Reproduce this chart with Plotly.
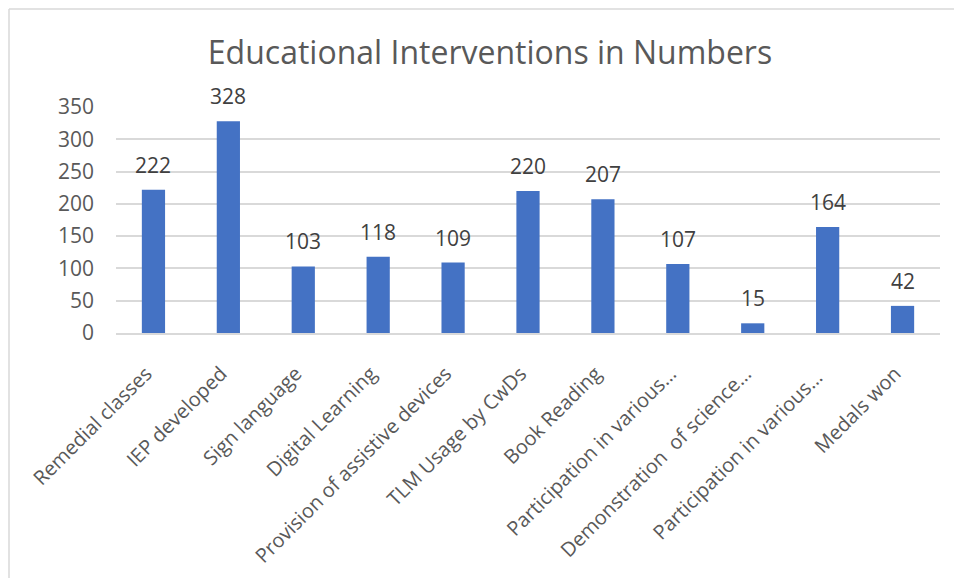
import plotly.graph_objects as go

categories = [
    "Remedial classes", "IEP developed", "Sign language", "Digital Learning",
    "Provision of assistive devices", "TLM Usage by CwDs", "Book Reading",
    "Participation in various…", "Demonstration  of science…",
    "Participation in various… ", "Medals won",
]
values = [222, 328, 103, 118, 109, 220, 207, 107, 15, 164, 42]
y_ticks = [0, 50, 100, 150, 200, 250, 300, 350]

FONT = "Open Sans"
OFF = 8  # page body margin
W, H = 962 - OFF, 578 - OFF
L, T = 116 - OFF, 107 - OFF
pw, ph = 824, 226
R, B = W - L - pw, H - T - ph

fig = go.Figure(go.Bar(
    x=categories, y=values, marker_color="#4472C4",
    marker_line_width=0, width=0.31,
))

for c, v in zip(categories, values):
    fig.add_annotation(x=c, y=v, text=str(v), showarrow=False, yanchor="bottom",
                       yshift=9, font=dict(family=FONT, size=21, color="#404040"))

px2x = lambda p: (p - OFF - L) / pw
px2y = lambda p: 1 - (p - OFF - T) / ph
border = dict(color="#d9d9d9", width=1.5)
fig.add_shape(type="line", xref="paper", yref="paper", x0=px2x(9), x1=px2x(962),
              y0=px2y(9), y1=px2y(9), line=border)
fig.add_shape(type="line", xref="paper", yref="paper", x0=px2x(9), x1=px2x(9),
              y0=px2y(9), y1=px2y(578), line=border)

fig.update_layout(
    width=W, height=H,
    margin=dict(l=L, r=R, t=T, b=B, autoexpand=False),
    paper_bgcolor="white", plot_bgcolor="white",
    title=dict(text="Educational Interventions in Numbers", x=(490 - OFF) / W, xanchor="center",
               y=1 - (53 - OFF) / H, yanchor="middle",
               font=dict(family=FONT, size=32, color="#595959")),
    showlegend=False,
    xaxis=dict(tickangle=-45, tickfont=dict(family=FONT, size=20, color="#595959"),
               tickvals=categories, ticktext=[c + "\u00a0\u00a0" for c in categories],
               showline=True, linecolor="#d9d9d9", linewidth=1.5, ticks="",
               ticklabelstandoff=12),
    yaxis=dict(range=[0, 350], tickvals=y_ticks, showgrid=True, gridcolor="#d9d9d9",
               gridwidth=1.5, zeroline=False, showline=False,
               tickfont=dict(family=FONT, size=21, color="#595959"),
               ticklabelstandoff=21),
)

fig.write_html("out.html")
